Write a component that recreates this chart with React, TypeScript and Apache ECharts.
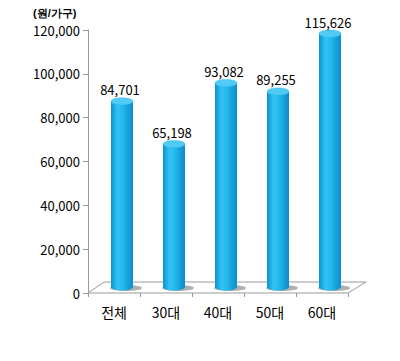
import React, { useEffect, useRef } from "react";
import * as echarts from "echarts";

const categories = ["전체", "30대", "40대", "50대", "60대"];
const values = [84701, 65198, 93082, 89255, 115626];
const yTicks = [0, 20000, 40000, 60000, 80000, 100000, 120000];
const unitLabel = "(원/가구)";

const FONT = "'Noto Sans CJK KR', 'Liberation Sans', sans-serif";

export default function App() {
  const ref = useRef<HTMLDivElement>(null);
  useEffect(() => {
    if (!ref.current) return;
    const chart = echarts.init(ref.current, undefined, { renderer: "svg" });
    const DX = 8;
    const DY = -6;
    const W = 22;
    const RY = 3.5;
    const fmt = (v: number) => v.toLocaleString("en-US");
    const bodyGrad = () =>
      new echarts.graphic.LinearGradient(0, 0, 1, 0, [
        { offset: 0, color: "#0a92cf" },
        { offset: 0.3, color: "#33c3f2" },
        { offset: 0.55, color: "#22b7ec" },
        { offset: 1, color: "#0b8dc9" },
      ]);
    chart.setOption({
      animation: false,
      textStyle: { fontFamily: FONT },
      grid: { left: 80, right: 60, top: 22, bottom: 76 },
      graphic: [
        {
          type: "text",
          left: 25,
          top: -1,
          style: { text: unitLabel, fontSize: 11, fontWeight: "bold", fill: "#000", font: `bold 11px ${FONT}` },
        },
        {
          type: "polygon",
          z: 0,
          shape: { points: [[80, 285], [96, 274], [358, 274], [340, 285]] },
          style: { fill: "#fff", stroke: "#9a9a9a", lineWidth: 1 },
        },
      ],
      xAxis: {
        type: "category",
        data: categories,
        boundaryGap: true,
        axisLine: { show: false },
        axisTick: { show: true, alignWithLabel: false, length: 4, lineStyle: { color: "#9a9a9a" } },
        axisLabel: { color: "#000", fontSize: 14, margin: 12, fontFamily: FONT },
        z: 5,
      },
      yAxis: {
        type: "value",
        min: 0,
        max: 120000,
        interval: 20000,
        axisLine: { show: true, lineStyle: { color: "#9a9a9a" } },
        axisTick: { show: true, length: 5, lineStyle: { color: "#9a9a9a" } },
        splitLine: { show: false },
        axisLabel: {
          color: "#000",
          fontSize: 13,
          margin: 8,
          fontFamily: FONT,
          formatter: (v: number) => (yTicks.includes(v) ? fmt(v) : ""),
        },
      },
      series: [
        {
          type: "custom",
          z: 10,
          data: values.map((v, i) => [i, v]),
          renderItem: (params: any, api: any) => {
            const idx = api.value(0);
            const v = api.value(1);
            const top = api.coord([idx, v]);
            const base = api.coord([idx, 0]);
            const cx = top[0] + DX;
            const yTop = top[1] + DY;
            const yBot = base[1] + DY;
            return {
              type: "group",
              children: [
                {
                  type: "ellipse",
                  shape: { cx: cx + 4, cy: yBot + 1, rx: W / 2 + 5, ry: 3 },
                  style: { fill: "rgba(110,110,110,0.55)" },
                },
                {
                  type: "ellipse",
                  shape: { cx, cy: yBot, rx: W / 2, ry: RY },
                  style: { fill: bodyGrad() },
                },
                {
                  type: "rect",
                  shape: { x: cx - W / 2, y: yTop, width: W, height: yBot - yTop },
                  style: { fill: bodyGrad() },
                },
                {
                  type: "ellipse",
                  shape: { cx, cy: yTop, rx: W / 2, ry: RY },
                  style: { fill: "#52cbf4", stroke: "#35bdee", lineWidth: 0.5 },
                },
                {
                  type: "text",
                  style: {
                    text: fmt(v),
                    x: cx - 2,
                    y: yTop - 5,
                    textAlign: "center",
                    textVerticalAlign: "bottom",
                    fontSize: 13,
                    fontFamily: FONT,
                    fill: "#000",
                  },
                },
              ],
            };
          },
        },
      ],
    });
    return () => chart.dispose();
  }, []);
  return <div ref={ref} style={{ width: 400, height: 361 }} />;
}
